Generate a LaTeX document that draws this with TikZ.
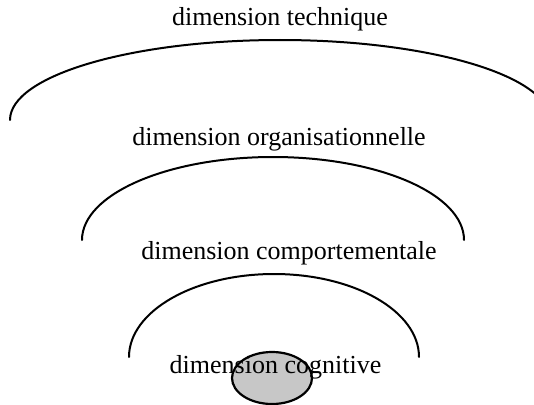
\documentclass[tikz,border=0pt]{standalone}
\usepackage{fontspec}
\setmainfont{Liberation Serif}
\usetikzlibrary{shapes.geometric}
\begin{document}
\begin{tikzpicture}[x=1pt,y=1pt,
  arcline/.style={line width=2pt,line cap=round},
  lbl/.style={anchor=base,inner sep=0pt,font=\fontsize{26}{30}\selectfont},
  core/.style={ellipse,draw,line width=2.2pt,fill=black!22,minimum width=80pt,minimum height=52pt,inner sep=0pt}]
\useasboundingbox (0,0) rectangle (534,-404);
\clip (0,0) rectangle (534,-404);
% core ellipse
\node[core] (core) at (272,-378) {};
% arcs
\coordinate (a1) at (10,-120);
\coordinate (a2) at (82,-240);
\coordinate (a3) at (129,-357);
\draw[arcline] (a1) arc[start angle=180,end angle=0,x radius=270,y radius=80];
\draw[arcline] (a2) arc[start angle=180,end angle=0,x radius=191,y radius=83];
\draw[arcline] (a3) arc[start angle=180,end angle=0,x radius=145,y radius=83];
% labels
\node[lbl] (tech) at (280,-26) {dimension technique};
\node[lbl] (org) at (279,-145) {dimension organisationnelle};
\node[lbl] (comp) at (289,-259) {dimension comportementale};
\node[lbl] (cog) at (275.5,-373) {dimension cognitive};
\end{tikzpicture}
\end{document}
